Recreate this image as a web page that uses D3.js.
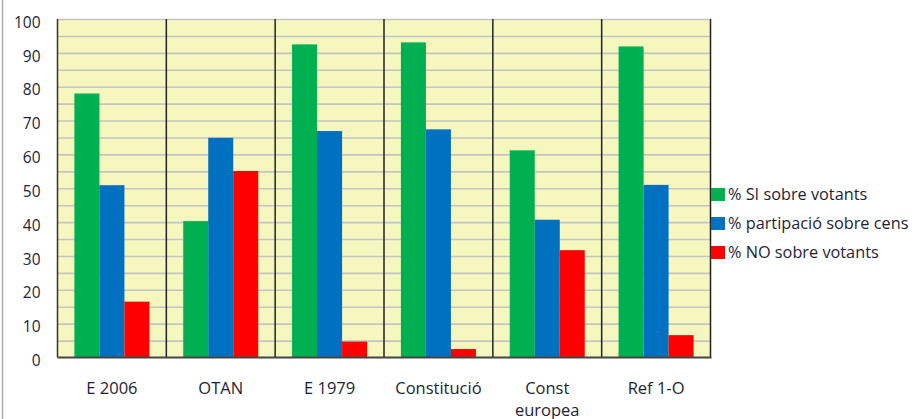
<!DOCTYPE html>
<html>
<head>
<meta charset="utf-8">
<script src="https://cdn.jsdelivr.net/npm/d3@7"></script>
<style>
  body { margin: 0; background: #fff; }
  svg { display: block; font-family: "Open Sans", Lato, sans-serif; }
</style>
</head>
<body>
<svg class="container"></svg>
<script>
const categories = ["E 2006", "OTAN", "E 1979", "Constitució", "Const europea", "Ref 1-O"];
const seriesNames = ["% SI sobre votants", "% partipació sobre cens", "% NO sobre votants"];
const siValues = [78, 40.3, 92.5, 93.1, 61.2, 91.9];
const partValues = [50.9, 64.9, 66.9, 67.4, 40.7, 51];
const noValues = [16.5, 55.1, 4.7, 2.5, 31.7, 6.6];
const yTicks = [0, 10, 20, 30, 40, 50, 60, 70, 80, 90, 100];
const gridTicks = d3.range(5, 101, 5);
const colors = ["#00b050", "#0070c0", "#ff0000"];

const width = 920;
const height = 419;
const plotLeft = 57.5, plotRight = 710.5, plotTop = 19, plotBottom = 357.5;

const svg = d3.select(".container").attr("width", width).attr("height", height);

// outer frame edge
svg.append("line").attr("x1", 2.5).attr("x2", 2.5).attr("y1", 0).attr("y2", height)
  .attr("stroke", "#b0b0b0").attr("stroke-width", 1.5);

const xScale = d3.scaleBand().domain(categories).range([plotLeft, plotRight]).padding(0);
const xInner = d3.scaleBand().domain(seriesNames).range([0, xScale.bandwidth()])
  .paddingInner(0).paddingOuter(0.676);
const yScale = d3.scaleLinear().domain([0, 100]).range([plotBottom, plotTop]);

svg.append("rect").attr("x", plotLeft).attr("y", plotTop)
  .attr("width", plotRight - plotLeft).attr("height", plotBottom - plotTop).attr("fill", "#f5f7bf");

// horizontal grid every 5
svg.append("g")
  .attr("transform", `translate(${plotLeft},0)`)
  .call(d3.axisLeft(yScale).tickValues(gridTicks).tickSize(-(plotRight - plotLeft)).tickFormat(""))
  .call((g) => g.select(".domain").remove())
  .call((g) => g.selectAll("line").attr("stroke", "#c4c4c4").attr("stroke-width", 1.6));

// category separators
svg.append("g")
  .selectAll("line")
  .data(categories.slice(1))
  .enter()
  .append("line")
  .attr("x1", (d) => xScale(d)).attr("x2", (d) => xScale(d))
  .attr("y1", plotTop).attr("y2", plotBottom)
  .attr("stroke", "#222").attr("stroke-width", 1.5);

const series = [siValues, partValues, noValues];
const rows = categories.map((c, i) => ({ cat: c, vals: series.map((s, j) => ({ name: seriesNames[j], v: s[i], j })) }));

svg.append("g")
  .selectAll("g")
  .data(rows)
  .enter()
  .append("g")
  .attr("transform", (d) => `translate(${xScale(d.cat)},0)`)
  .selectAll("rect")
  .data((d) => d.vals)
  .enter()
  .append("rect")
  .attr("x", (d) => xInner(d.name))
  .attr("y", (d) => yScale(d.v))
  .attr("width", xInner.bandwidth())
  .attr("height", (d) => plotBottom - yScale(d.v))
  .attr("fill", (d) => colors[d.j]);

// frame lines
svg.append("line").attr("x1", plotLeft).attr("x2", plotLeft).attr("y1", plotTop).attr("y2", plotBottom)
  .attr("stroke", "#333").attr("stroke-width", 1.5);
svg.append("line").attr("x1", plotRight).attr("x2", plotRight).attr("y1", plotTop).attr("y2", plotBottom)
  .attr("stroke", "#222").attr("stroke-width", 1.5);
svg.append("line").attr("x1", plotLeft).attr("x2", plotRight + 1).attr("y1", plotBottom).attr("y2", plotBottom)
  .attr("stroke", "#444").attr("stroke-width", 2);

// y axis labels
svg.append("g")
  .attr("transform", `translate(${plotLeft},0)`)
  .call(d3.axisLeft(yScale).tickValues(yTicks).tickSize(0).tickPadding(17))
  .call((g) => g.select(".domain").remove())
  .call((g) => g.selectAll("text")
    .attr("dy", "0.85em").attr("y", -5)
    .style("font-size", "15.5px").style("font-family", "'Open Sans', sans-serif").attr("fill", "#1e1e34"));

// x axis labels
const xg = svg.append("g")
  .attr("transform", `translate(0,${plotBottom})`)
  .call(d3.axisBottom(xScale).tickSize(0).tickPadding(0))
  .call((g) => g.select(".domain").remove());
xg.selectAll("text")
  .style("font-size", "16.5px").style("font-family", "'Open Sans', sans-serif").attr("fill", "#1e1e34")
  .attr("dy", null).attr("y", 36)
  .each(function (d) {
    const words = d.split(" ");
    const t = d3.select(this).text(null);
    if (d === "Const europea") {
      t.append("tspan").attr("x", 0).attr("dy", 0).text(words[0]);
      t.append("tspan").attr("x", 0).attr("dy", 22).text(words[1]);
    } else {
      t.append("tspan").attr("x", 0).text(d);
    }
  });

// legend
const legend = svg.append("g")
  .selectAll("g")
  .data(seriesNames)
  .enter()
  .append("g")
  .attr("transform", (d, i) => `translate(711,${194 + i * 29})`);
legend.append("rect").attr("x", 0).attr("y", -6).attr("width", 14).attr("height", 13)
  .attr("fill", (d, i) => colors[i]);
legend.append("text").attr("x", 17).attr("y", 5.5)
  .style("font-size", "16.3px").attr("fill", "#1e1e34").text((d) => d);
</script>
</body>
</html>
